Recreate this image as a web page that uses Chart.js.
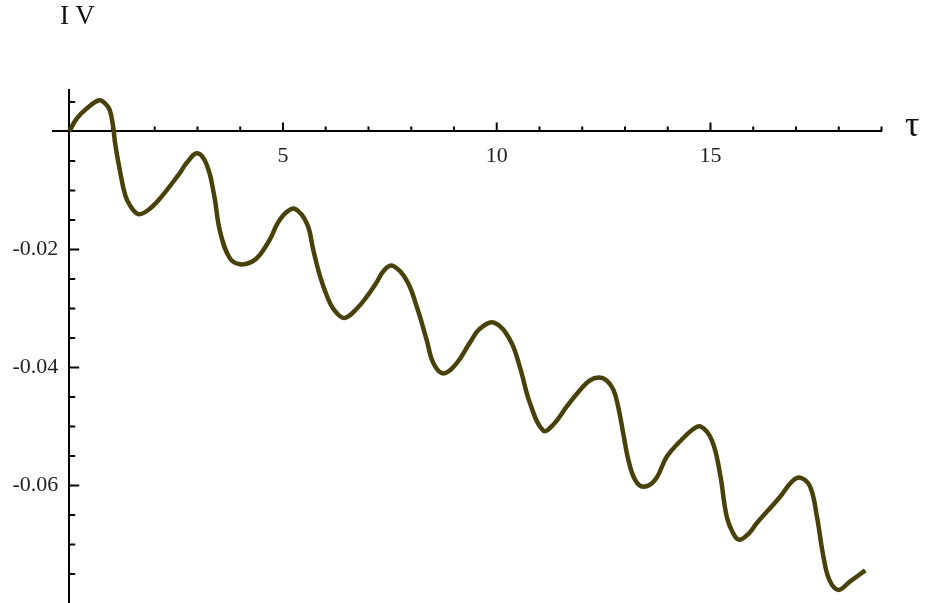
<!DOCTYPE html>
<html>
<head>
<meta charset="utf-8">
<script src="https://cdn.jsdelivr.net/npm/chart.js@4.4.1/dist/chart.umd.min.js"></script>
<style>
  html, body { margin: 0; padding: 0; background: #fff; }
  #wrap { position: relative; width: 926px; height: 603px; overflow: hidden; }
  .lbl { position: absolute; font-family: "Liberation Serif", serif; color: #111; line-height: 1; white-space: nowrap; }
</style>
</head>
<body>
<div id="wrap">
  <canvas id="ivChart" width="926" height="603"></canvas>
  <div class="lbl" style="left:60px; top:2px; font-size:27px;">I V</div>
  <div class="lbl" style="left:905px; top:106px; font-size:36px;">τ</div>
</div>
<script>
// curve
const tau = [0, 0.175, 0.41, 0.70, 0.85, 0.95, 1.03, 1.074, 1.19, 1.31, 1.42, 1.62, 1.85,
  2.13, 2.59, 2.75, 3.00, 3.22, 3.39, 3.53, 3.76, 4.00, 4.27, 4.46, 4.70, 4.88, 5.08, 5.28, 5.56,
  5.71, 5.87, 6.10, 6.26, 6.45, 6.73, 6.96, 7.17, 7.38, 7.58, 7.89, 8.13, 8.36, 8.52, 8.75, 9.06,
  9.38, 9.61, 9.94, 10.31, 10.54, 10.78, 11.09, 11.32, 11.64, 11.95, 12.18, 12.38, 12.57,
  12.73, 12.84, 12.96, 13.08, 13.24, 13.43, 13.70, 13.98, 14.29, 14.57, 14.77, 15.03, 15.22, 15.38,
  15.53, 15.67, 15.90, 16.08, 16.63, 16.91, 17.11, 17.33, 17.49, 17.64, 17.78, 17.99, 18.26, 18.62];
const iv = [0, 0.0022, 0.0039, 0.0053, 0.0047, 0.0036, 0.0007, -0.0020, -0.0068, -0.0108, -0.0125, -0.0140, -0.0133,
  -0.0113, -0.0070, -0.0053, -0.0037, -0.0057, -0.0108, -0.0170, -0.0215, -0.0225, -0.0221, -0.0209, -0.0182,
  -0.0155, -0.0137, -0.0131, -0.0156, -0.0201, -0.0246, -0.0291, -0.0308, -0.0316, -0.0300, -0.0280, -0.0258,
  -0.0234, -0.0228, -0.0252, -0.0297, -0.0353, -0.0393, -0.0410, -0.0393, -0.0357, -0.0334, -0.0324, -0.0353,
  -0.0399, -0.0461, -0.0507, -0.0497, -0.0466, -0.0438, -0.0422, -0.0417, -0.0422, -0.0438, -0.0466,
  -0.0512, -0.0557, -0.0591, -0.0602, -0.0591, -0.0551, -0.0525, -0.0506, -0.0500, -0.0523, -0.0579, -0.0653,
  -0.0681, -0.0692, -0.0681, -0.0664, -0.0619, -0.0593, -0.0587, -0.0602, -0.0653, -0.0720, -0.0760, -0.0777,
  -0.0763, -0.0744];

// ticks
const xMajorTicks = [5, 10, 15];
const xMinorTicks = [1, 2, 3, 4, 6, 7, 8, 9, 11, 12, 13, 14, 16, 17, 18, 19];
const yMajorTicks = [-0.02, -0.04, -0.06];
const yMinorTicks = [0.005, -0.005, -0.01, -0.015, -0.025, -0.03, -0.035, -0.045, -0.05, -0.055, -0.065, -0.07, -0.075];

const points = tau.map((t, i) => ({ x: t, y: iv[i] }));

function isIn(list, v) {
  return list.some(t => Math.abs(t - v) < 1e-6);
}

// Mathematica style tick marks pointing into the plot
const tickMarks = {
  id: 'tickMarks',
  beforeDatasetsDraw(chart) {
    const ctx = chart.ctx;
    const xs = chart.scales.x, ys = chart.scales.y;
    const x0 = xs.getPixelForValue(0), y0 = ys.getPixelForValue(0);
    ctx.save();
    ctx.strokeStyle = '#000';
    ctx.lineWidth = 2;
    ctx.beginPath();
    xMajorTicks.concat(xMinorTicks).forEach(v => {
      const px = xs.getPixelForValue(v);
      const len = isIn(xMajorTicks, v) ? 9 : 5;
      ctx.moveTo(px, y0);
      ctx.lineTo(px, y0 - len);
    });
    yMajorTicks.concat(yMinorTicks).forEach(v => {
      const py = ys.getPixelForValue(v);
      const len = isIn(yMajorTicks, v) ? 10 : 6;
      ctx.moveTo(x0, py);
      ctx.lineTo(x0 + len, py);
    });
    ctx.stroke();
    ctx.restore();
  }
};

// axes sit inside the plot, so they should not eat into the layout
function noPadding(scale) {
  scale.paddingTop = 0;
  scale.paddingBottom = 0;
  scale.paddingLeft = 0;
  scale.paddingRight = 0;
}

const tickFont = { family: 'Liberation Serif', size: 22 };

new Chart(document.getElementById('ivChart').getContext('2d'), {
  type: 'line',
  data: {
    datasets: [{
      data: points,
      borderColor: '#48420a',
      borderWidth: 4.5,
      pointRadius: 0,
      fill: false,
      tension: 0.4
    }]
  },
  options: {
    responsive: false,
    animation: false,
    devicePixelRatio: 1,
    layout: { padding: { left: 53, right: 44.5, top: 90, bottom: 0 } },
    plugins: { legend: { display: false }, tooltip: { enabled: false } },
    scales: {
      x: {
        type: 'linear',
        position: { y: 0 },
        min: -0.379,
        max: 19,
        grid: { display: false },
        border: { display: true, color: '#000', width: 2 },
        afterFit: noPadding,
        ticks: {
          stepSize: 1,
          includeBounds: false,
          padding: 4,
          maxRotation: 0,
          autoSkip: false,
          color: '#222',
          font: tickFont,
          callback: v => isIn(xMajorTicks, v) ? String(v) : null
        }
      },
      y: {
        type: 'linear',
        position: { x: 0 },
        min: -0.07992,
        max: 0.007034,
        grid: { display: false },
        border: { display: true, color: '#000', width: 2 },
        afterFit: noPadding,
        ticks: {
          stepSize: 0.005,
          includeBounds: false,
          autoSkip: false,
          color: '#222',
          font: tickFont,
          callback: v => isIn(yMajorTicks, v) ? v.toFixed(2) + '  ' : null
        }
      }
    }
  },
  plugins: [tickMarks]
});
</script>
</body>
</html>
